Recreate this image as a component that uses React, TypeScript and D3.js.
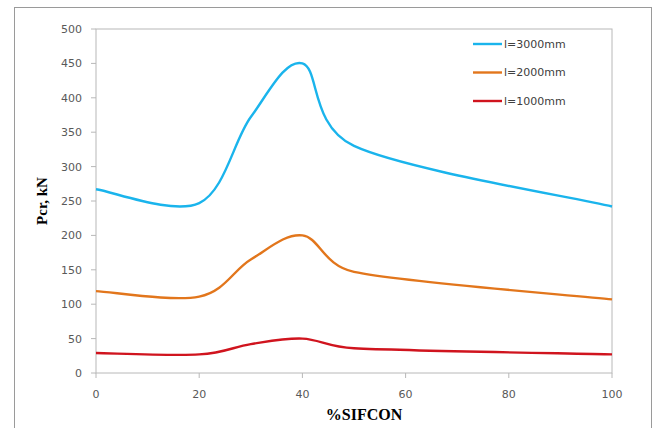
import React from "react";
import * as d3 from "d3";

const xValues = [0, 20, 30, 40, 50, 100];
const seriesNames = ["l=3000mm", "l=2000mm", "l=1000mm"];
const s3000 = [267, 247, 372, 450, 330, 242];
const s2000 = [119, 111, 165, 200, 147, 107];
const s1000 = [29, 27, 42, 50, 36, 27];
const seriesColors = ["#1AB4EC", "#E2761C", "#D0141E"];
const xTicks = [0, 20, 40, 60, 80, 100];
const yTicks = [0, 50, 100, 150, 200, 250, 300, 350, 400, 450, 500];

// Spreadsheet-style smoothed line (Bezier with limited control lengths)
function curveSmooth(context: any) {
  let pts: [number, number][] = [];
  const dist = (a: number[], b: number[]) => Math.hypot(b[0] - a[0], b[1] - a[1]);
  return {
    areaStart() {},
    areaEnd() {},
    lineStart() {
      pts = [];
    },
    point(x: number, y: number) {
      pts.push([+x, +y]);
    },
    lineEnd() {
      const n = pts.length;
      if (!n) return;
      context.moveTo(pts[0][0], pts[0][1]);
      for (let i = 0; i < n - 1; i++) {
        const p0 = pts[i - 1] || pts[i];
        const p1 = pts[i];
        const p2 = pts[i + 1];
        const p3 = pts[i + 2] || pts[i + 1];
        const d12 = dist(p1, p2);
        const d02 = dist(p0, p2);
        const d13 = dist(p1, p3);
        let f1 = 1 / 6, f2 = 1 / 6;
        if (d02 / 6 >= d12 / 2 && d02 > 0) f1 = d12 / d02 / 2;
        if (d13 / 6 >= d12 / 2 && d13 > 0) f2 = d12 / d13 / 2;
        const c1x = p1[0] + (p2[0] - p0[0]) * f1;
        const c1y = p1[1] + (p2[1] - p0[1]) * f1;
        const c2x = p2[0] - (p3[0] - p1[0]) * f2;
        const c2y = p2[1] - (p3[1] - p1[1]) * f2;
        context.bezierCurveTo(c1x, c1y, c2x, c2y, p2[0], p2[1]);
      }
    },
  };
}

export default function App() {
  const W = 658, H = 428;
  const left = 96, right = 612, top = 29, bottom = 373;
  const x = d3.scaleLinear().domain([0, 100]).range([left, right]);
  const y = d3.scaleLinear().domain([0, 500]).range([bottom, top]);
  const all = [s3000, s2000, s1000];
  const line = d3
    .line<[number, number]>()
    .x((d) => x(d[0]))
    .y((d) => y(d[1]))
    .curve(curveSmooth as any);
  const tickFont = "'DejaVu Sans', sans-serif";
  return (
    <svg
      width={W}
      height={H}
      style={{ position: "absolute", left: 0, top: 0, background: "#fff" }}
    >
      <rect x={14.5} y={7.5} width={637} height={440} fill="#fff" stroke="#9a9a9a" strokeWidth={1} />
      <rect x={left} y={top} width={right - left} height={bottom - top} fill="none" stroke="#b8b8b8" strokeWidth={1} />
      {yTicks.map((t) => (
        <g key={"y" + t}>
          <line x1={left - 5} x2={left} y1={y(t)} y2={y(t)} stroke="#b8b8b8" />
          <text
            x={82}
            y={y(t)}
            dy="0.36em"
            textAnchor="end"
            fontFamily={tickFont}
            fontSize={11}
            fill="#595959"
          >
            {t}
          </text>
        </g>
      ))}
      {xTicks.map((t) => (
        <g key={"x" + t}>
          <line x1={x(t)} x2={x(t)} y1={bottom} y2={bottom + 5} stroke="#b8b8b8" />
          <text
            x={x(t)}
            y={398}
            textAnchor="middle"
            fontFamily={tickFont}
            fontSize={11}
            fill="#595959"
          >
            {t}
          </text>
        </g>
      ))}
      {all.map((s, i) => (
        <path
          key={seriesNames[i]}
          d={line(xValues.map((xv, j) => [xv, s[j]] as [number, number])) || ""}
          fill="none"
          stroke={seriesColors[i]}
          strokeWidth={2.4}
        />
      ))}
      {seriesNames.map((n, i) => {
        const ly = 44 + i * 28.5;
        return (
          <g key={"lg" + n}>
            <line x1={473} x2={502} y1={ly} y2={ly} stroke={seriesColors[i]} strokeWidth={2.4} />
            <text x={504} y={ly} dy="0.36em" fontFamily={tickFont} fontSize={11} fill="#404040">
              {n}
            </text>
          </g>
        );
      })}
      <text
        x={364}
        y={420}
        textAnchor="middle"
        fontFamily="'Liberation Serif', 'Times New Roman', serif"
        fontWeight="bold"
        fontSize={16}
        fill="#000"
      >
        %SIFCON
      </text>
      <text
        transform={`translate(47,201) rotate(-90)`}
        textAnchor="middle"
        fontFamily="'Liberation Serif', 'Times New Roman', serif"
        fontWeight="bold"
        fontSize={15}
        fill="#000"
      >
        Pcr,  kN
      </text>
    </svg>
  );
}
